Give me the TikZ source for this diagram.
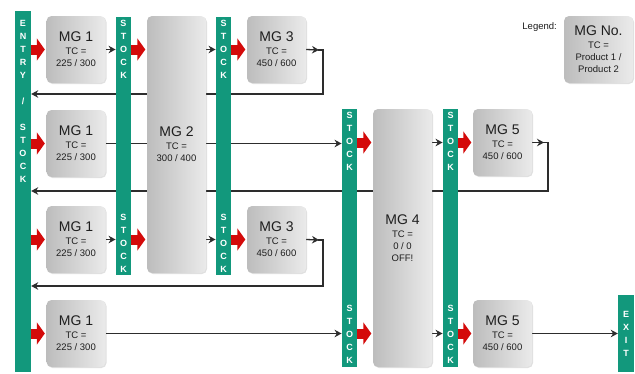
\documentclass[tikz,border=0pt]{standalone}
\usepackage{fontspec}
\setmainfont{Liberation Sans}
\usetikzlibrary{arrows.meta,shadows,calc}
\pgfdeclarelayer{bg}
\pgfsetlayers{bg,main}
\definecolor{teal1}{RGB}{18,152,124}
\definecolor{red1}{RGB}{212,10,10}
\definecolor{ln}{RGB}{45,45,45}
\definecolor{txt}{RGB}{30,30,30}
\tikzset{
 mgbox/.style={rounded corners=5pt, left color=black!26, right color=black!8,
   minimum width=59pt, minimum height=67pt, inner sep=0pt, align=center,
   font=\fontsize{9.5}{12}\selectfont, text=txt,
   general shadow={shadow xshift=1pt, shadow yshift=-1pt, fill=black, opacity=.12}},
 stockbar/.style={fill=teal1, inner sep=0pt, minimum width=15.5pt},
 bartext/.style={text=white, font=\fontsize{9}{13}\selectfont\bfseries, align=center, inner sep=0pt},
 flow/.style={draw=ln, line width=1.3pt, -{Stealth[length=7pt,width=7.5pt]}},
 redarrow/.style={draw=red1, line width=10pt, -{Triangle[length=8pt,width=22pt]}, shorten >=1.5pt}
}
\newcommand{\mgt}[1]{{\fontsize{14}{16}\selectfont #1}\\[1pt]}
\begin{document}
\begin{tikzpicture}[x=1pt,y=-1pt]
\useasboundingbox (0,0) rectangle (635,373);

% stock bars
\node[stockbar, minimum width=16pt, minimum height=361pt] (bar1) at (23,191.5) {};
\node[stockbar, minimum height=258pt] (bar2) at (123.5,146) {};
\node[stockbar, minimum height=258pt] (bar3) at (223.5,146) {};
\node[stockbar, minimum height=258pt] (bar4) at (349.5,238) {};
\node[stockbar, minimum height=258pt] (bar5) at (450.5,238) {};
\node[stockbar, minimum width=16pt, minimum height=77pt] (exitbar) at (626,333.5) {};

% bar texts
\node[bartext, anchor=north] (t1) at ([yshift=-9pt]bar1.north) {E\\N\\T\\R\\Y\\{}\\/\\{}\\S\\T\\O\\C\\K};
\node[bartext, anchor=north] (t2a) at ([yshift=-3pt]bar2.north) {S\\T\\O\\C\\K};
\node[bartext, anchor=south] (t2b) at ([yshift=3pt]bar2.south) {S\\T\\O\\C\\K};
\node[bartext, anchor=north] (t3a) at ([yshift=-3pt]bar3.north) {S\\T\\O\\C\\K};
\node[bartext, anchor=south] (t3b) at ([yshift=3pt]bar3.south) {S\\T\\O\\C\\K};
\node[bartext, anchor=north] (t4a) at ([yshift=-3pt]bar4.north) {S\\T\\O\\C\\K};
\node[bartext, anchor=south] (t4b) at ([yshift=4pt]bar4.south) {S\\T\\O\\C\\K};
\node[bartext, anchor=north] (t5a) at ([yshift=-3pt]bar5.north) {S\\T\\O\\C\\K};
\node[bartext, anchor=south] (t5b) at ([yshift=4pt]bar5.south) {S\\T\\O\\C\\K};
\node[bartext] (tex) at (exitbar.center) {E\\X\\I\\T};

% machine groups
\node[mgbox] (m11) at (76,49.5) {\mgt{MG 1}TC =\\225 / 300};
\node[mgbox] (m21) at (76,143.5) {\mgt{MG 1}TC =\\225 / 300};
\node[mgbox] (m31) at (76,239.5) {\mgt{MG 1}TC =\\225 / 300};
\node[mgbox] (m41) at (76,333.5) {\mgt{MG 1}TC =\\225 / 300};
\node[mgbox, minimum height=257pt] (mg2) at (176.5,144.5) {\mgt{MG 2}TC =\\300 / 400};
\node[mgbox] (mg3a) at (276.5,49.5) {\mgt{MG 3}TC =\\450 / 600};
\node[mgbox] (mg3b) at (276.5,239.5) {\mgt{MG 3}TC =\\450 / 600};
\node[mgbox, minimum height=258pt] (mg4) at (402.5,238) {\mgt{MG 4}TC =\\0 / 0\\OFF!};
\node[mgbox] (mg5a) at (502.5,142.5) {\mgt{MG 5}TC =\\450 / 600};
\node[mgbox] (mg5b) at (502.5,333.5) {\mgt{MG 5}TC =\\450 / 600};

% legend
\node[anchor=east, font=\fontsize{9.5}{11}\selectfont, text=txt, inner sep=0pt] (leglabel) at (557,27) {Legend:};
\node[mgbox, minimum width=69pt] (leg) at (598.5,49.5) {\mgt{MG No.}TC =\\Product 1 /\\Product 2};

% feedback corners
\coordinate (f1) at (323,50);
\coordinate (f1b) at (323,94);
\coordinate (f2) at (548,142.5);
\coordinate (f2b) at (548,191);
\coordinate (f3) at (323,240);
\coordinate (f3b) at (323,286);

\begin{pgfonlayer}{bg}
\fill[white] (0,0) rectangle (635,373);
% row 1
\draw[flow] (m11.east) -- (bar2.west |- m11.east);
\draw[flow] (mg2.east |- m11.east) -- (bar3.west |- m11.east);
\draw[flow] (mg3a.east) -- ([xshift=-4pt]f1);
\draw[flow] ([xshift=-5pt]f1) -- (f1) -- (f1b) -- (bar1.east |- f1b);
% row 2
\draw[flow] (m21.east) -- (bar4.west |- m21.east);
\draw[flow] (mg4.east |- mg5a.west) -- (bar5.west |- mg5a.west);
\draw[flow] (mg5a.east) -- ([xshift=-4pt]f2);
\draw[flow] ([xshift=-5pt]f2) -- (f2) -- (f2b) -- (bar1.east |- f2b);
% row 3
\draw[flow] (m31.east) -- (bar2.west |- m31.east);
\draw[flow] (mg2.east |- m31.east) -- (bar3.west |- m31.east);
\draw[flow] (mg3b.east) -- ([xshift=-4pt]f3);
\draw[flow] ([xshift=-5pt]f3) -- (f3) -- (f3b) -- (bar1.east |- f3b);
% row 4
\draw[flow] (m41.east) -- (bar4.west |- m41.east);
\draw[flow] (mg4.east |- m41.east) -- (bar5.west |- m41.east);
\draw[flow] (mg5b.east) -- (exitbar.west |- mg5b.east);
\end{pgfonlayer}

% red transfer arrows
\draw[redarrow] (bar1.east |- m11.west) -- (m11.west);
\draw[redarrow] (bar1.east |- m21.west) -- (m21.west);
\draw[redarrow] (bar1.east |- m31.west) -- (m31.west);
\draw[redarrow] (bar1.east |- m41.west) -- (m41.west);
\draw[redarrow] (bar2.east |- m11.west) -- (mg2.west |- m11.west);
\draw[redarrow] (bar2.east |- m31.west) -- (mg2.west |- m31.west);
\draw[redarrow] (bar3.east |- mg3a.west) -- (mg3a.west);
\draw[redarrow] (bar3.east |- mg3b.west) -- (mg3b.west);
\draw[redarrow] (bar4.east |- mg5a.west) -- (mg4.west |- mg5a.west);
\draw[redarrow] (bar4.east |- m41.west) -- (mg4.west |- m41.west);
\draw[redarrow] (bar5.east |- mg5a.west) -- (mg5a.west);
\draw[redarrow] (bar5.east |- mg5b.west) -- (mg5b.west);
\end{tikzpicture}
\end{document}
